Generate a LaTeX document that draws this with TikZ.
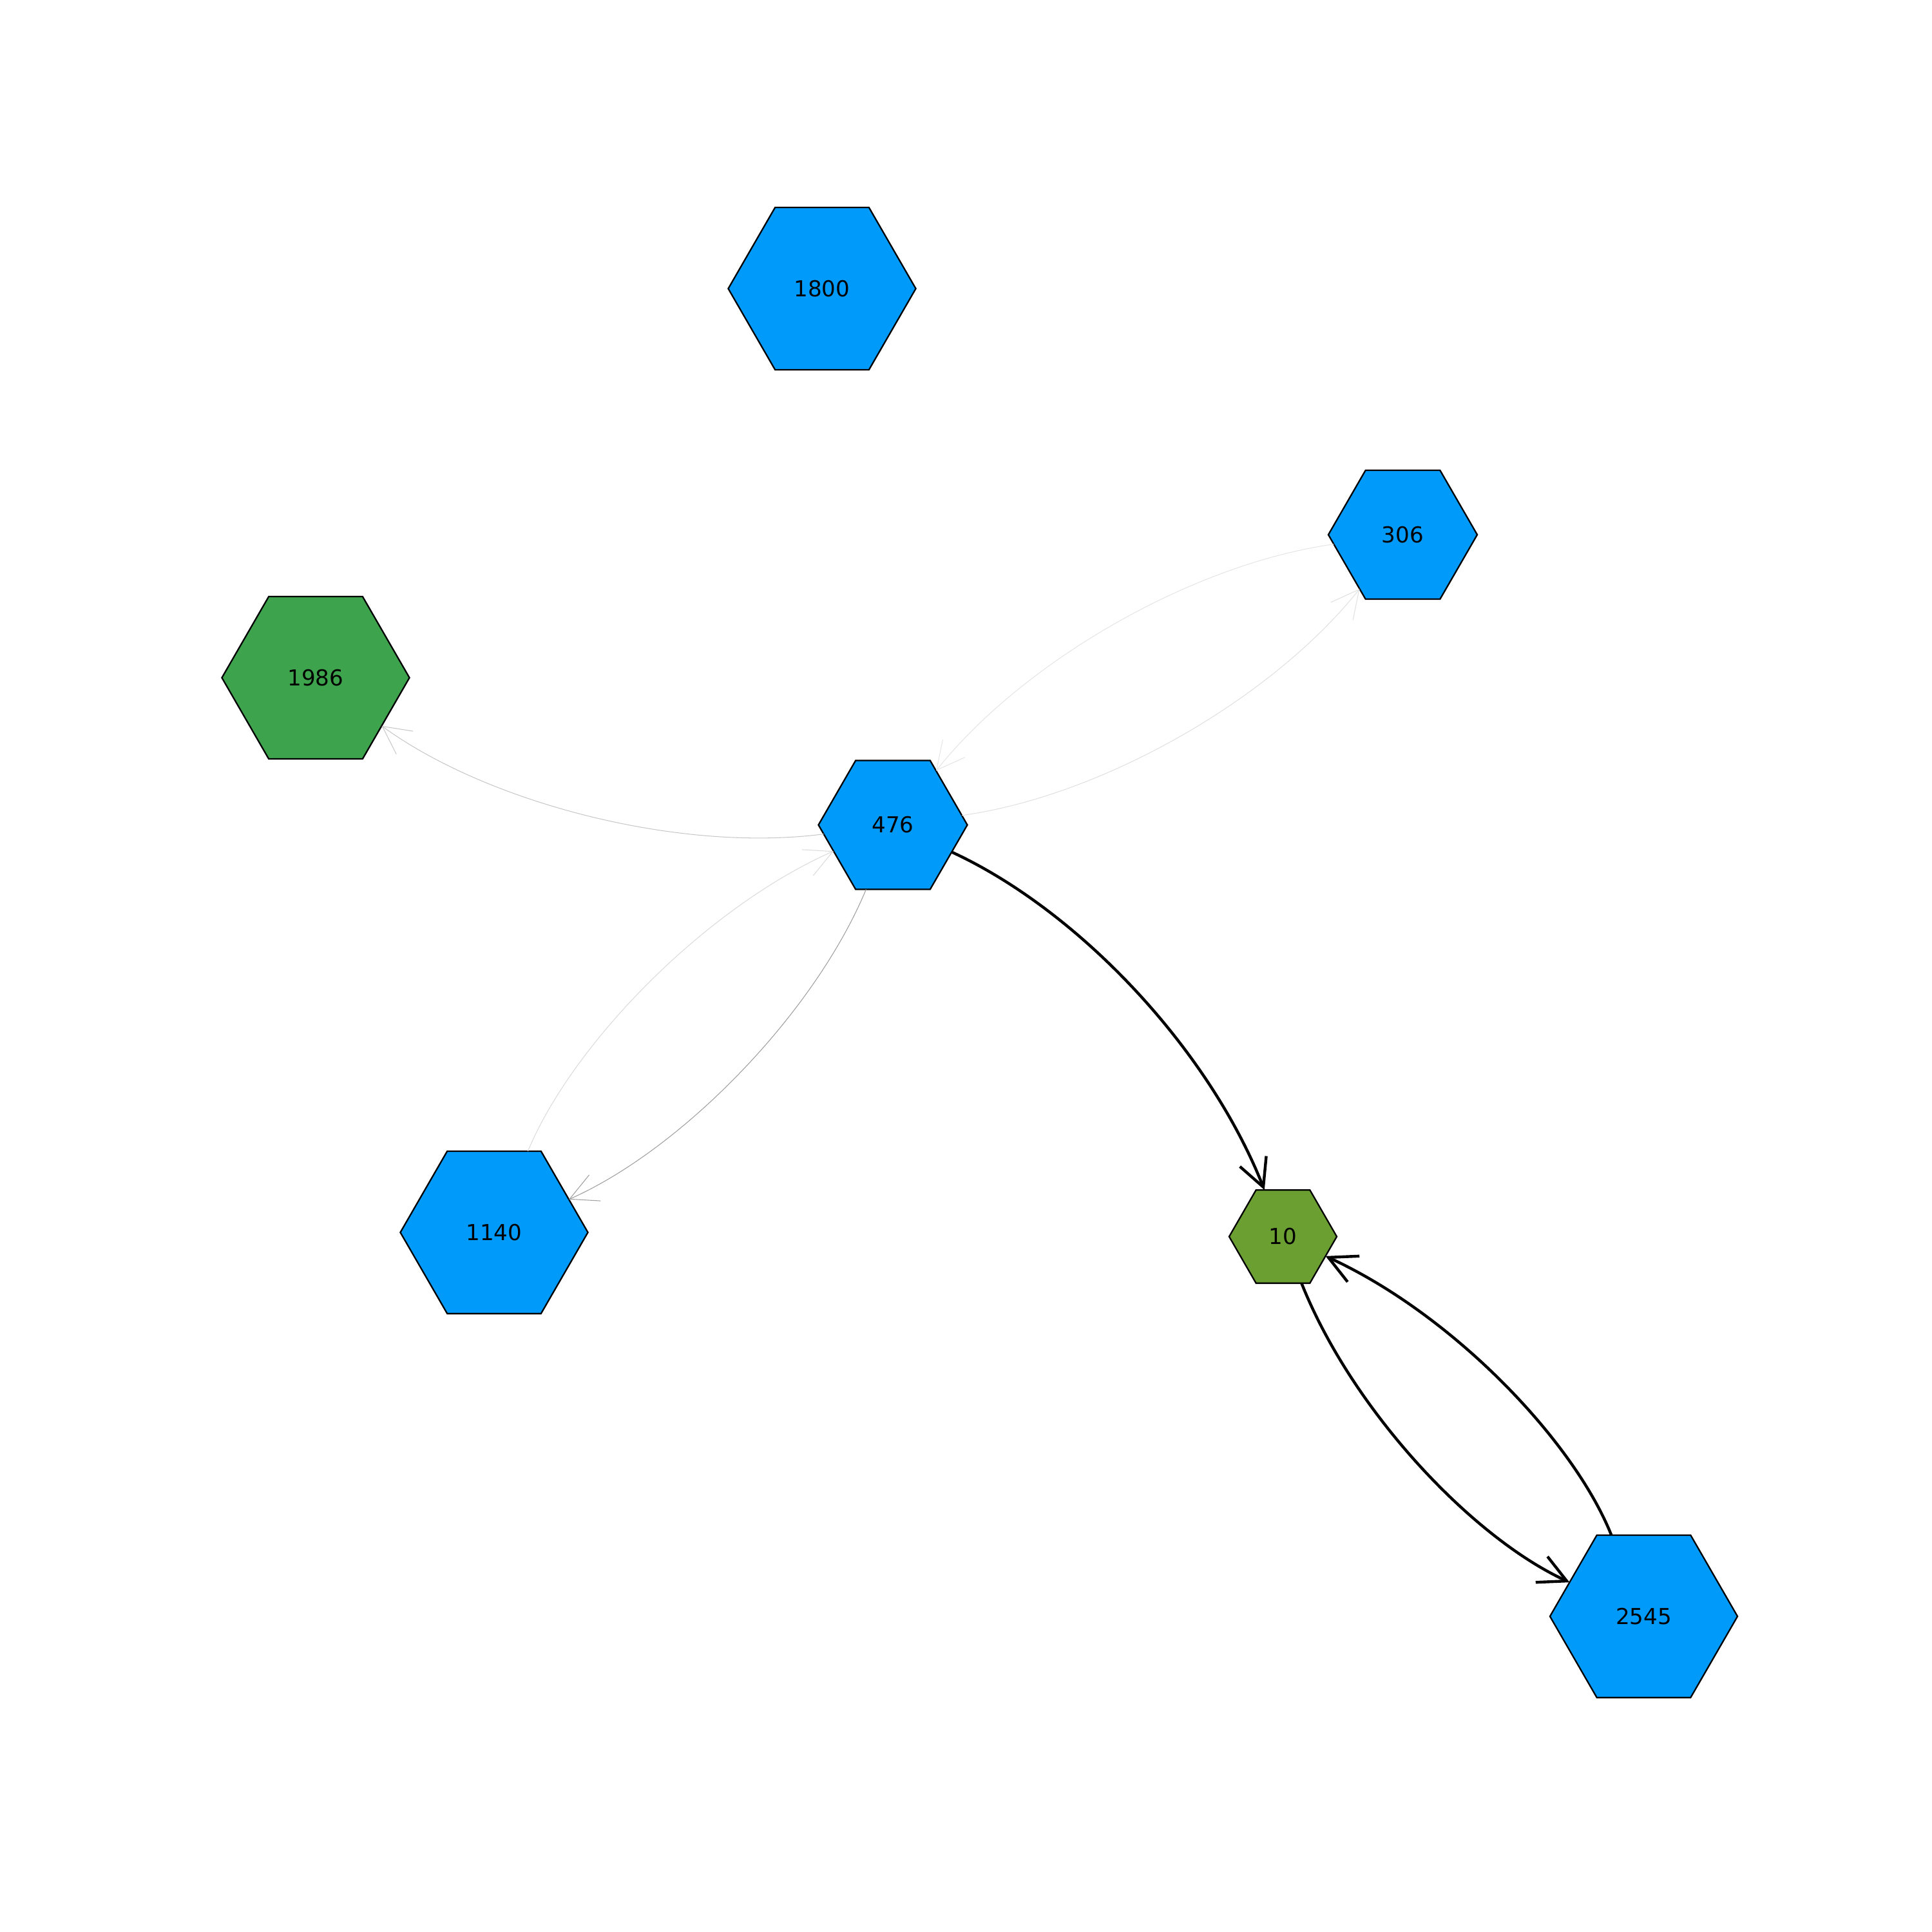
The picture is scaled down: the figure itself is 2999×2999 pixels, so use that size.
\documentclass[tikz,border=0pt]{standalone}
\usepackage{fontspec}
\setmainfont{DejaVu Sans}
\usetikzlibrary{shapes.geometric,arrows.meta,calc}
\definecolor{nodeblue}{RGB}{0,155,250}
\definecolor{nodegreen}{RGB}{62,163,77}
\definecolor{nodeolive}{RGB}{107,159,50}
\newcommand\arcedge[4]{% style, from, to, angle (90 left, -90 right)
  \coordinate (ctl-#2-#3) at ($(#2)!0.5!(#3)!0.4!#4:(#3)$);
  \draw[#1] (#2) .. controls ($(#2)!2/3!(ctl-#2-#3)$) and ($(#3)!2/3!(ctl-#2-#3)$) .. (#3);
}
\begin{document}
\begin{tikzpicture}[x=0.01cm,y=-0.01cm,
  hexnode/.style={regular polygon, regular polygon sides=6, draw=black, line width=0.65pt,
    inner sep=0pt, outer sep=0pt, text=black, font=\fontsize{9.7}{11}\selectfont},
  bighex/.style={hexnode, minimum size=2.91cm},
  midhex/.style={hexnode, minimum size=2.31cm},
  smallhex/.style={hexnode, minimum size=1.67cm},
  tip/.style={-{Straight Barb[length=0.43cm,width=0.44cm]}},
  strongedge/.style={tip, line width=1.25pt, draw=black},
  faintedge/.style={tip, line width=0.3pt, draw=#1},
]
\useasboundingbox (0,0) rectangle (2999,2999);

\node[bighex, fill=nodeblue]  (n1800) at (1276,448)    {1800};
\node[midhex, fill=nodeblue]  (n306)  at (2177.5,830)  {306};
\node[bighex, fill=nodegreen] (n1986) at (490,1052)    {1986};
\node[midhex, fill=nodeblue]  (n476)  at (1386,1280.5) {476};
\node[bighex, fill=nodeblue]  (n1140) at (767,1913)    {1140};
\node[smallhex, fill=nodeolive] (n10) at (1991.5,1919.5) {10};
\node[bighex, fill=nodeblue]  (n2545) at (2551.5,2509) {2545};

\arcedge{faintedge=black!22}{n476}{n1986}{90}
\arcedge{faintedge=black!10}{n306}{n476}{-90}
\arcedge{faintedge=black!12}{n476}{n306}{-90}
\arcedge{faintedge=black!14}{n1140}{n476}{90}
\arcedge{faintedge=black!38}{n476}{n1140}{90}
\arcedge{strongedge}{n476}{n10}{90}
\arcedge{strongedge}{n10}{n2545}{-90}
\arcedge{strongedge}{n2545}{n10}{-90}
\end{tikzpicture}
\end{document}
